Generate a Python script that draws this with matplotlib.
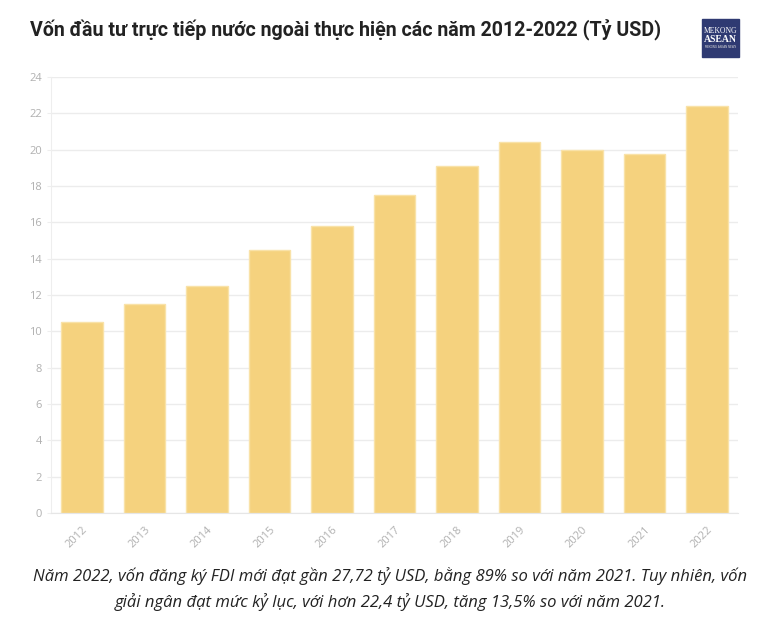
import matplotlib.pyplot as plt
from matplotlib.patches import Rectangle

years = ['2012', '2013', '2014', '2015', '2016', '2017', '2018', '2019', '2020', '2021', '2022']
fdi = [10.5, 11.5, 12.5, 14.5, 15.8, 17.5, 19.1, 20.4, 20.0, 19.75, 22.4]
yticks = list(range(0, 25, 2))

title = 'Vốn đầu tư trực tiếp nước ngoài thực hiện các năm 2012-2022 (Tỷ USD)'
caption = ('Năm 2022, vốn đăng ký FDI mới đạt gần 27,72 tỷ USD, bằng 89% so với năm 2021. Tuy nhiên, vốn\n'
           'giải ngân đạt mức kỷ lục, với hơn 22,4 tỷ USD, tăng 13,5% so với năm 2021.')

fig = plt.figure(figsize=(7.65, 6.22), dpi=100)
ax = fig.add_axes([0.0663, 0.1752, 0.8987, 0.701])

ax.bar(range(len(years)), fdi, width=0.67, color='#f5d27e', edgecolor='#f9e2a8', linewidth=1, zorder=2)

ax.set_xlim(-0.5, len(years) - 0.5)
ax.set_ylim(0, 24)
ax.set_yticks(yticks)
ax.set_xticks(range(len(years)))
ax.set_xticklabels(years, rotation=45, ha='right', rotation_mode='anchor')
ax.tick_params(axis='both', colors='#b0b0b0', labelsize=8, length=3)
ax.tick_params(axis='x', length=0, pad=8)
ax.tick_params(axis='y', color='#eeeeee')
for lbl in ax.get_xticklabels() + ax.get_yticklabels():
    lbl.set_fontfamily('Open Sans')
ax.grid(axis='y', color='#ececec', linewidth=1, zorder=0)
for s in ['top', 'right']:
    ax.spines[s].set_visible(False)
ax.spines['left'].set_color('#eeeeee')
ax.spines['bottom'].set_color('#e6e6e6')

fig.text(30 / 765, 1 - 30 / 622, title, fontsize=14.1, fontweight='bold', color='#222222',
         family='Roboto', va='center', ha='left')

# logo
fig.patches.append(Rectangle((702 / 765, 1 - 57 / 622), 37 / 765, 38 / 622,
                             transform=fig.transFigure, color='#2f3a72'))
fig.text(720.5 / 765, 1 - 31 / 622, 'MEKONG', fontsize=5.5, color='white', family='Liberation Serif',
         ha='center', va='center')
fig.text(720.5 / 765, 1 - 40 / 622, 'ASEAN', fontsize=7, color='white', family='Liberation Serif',
         fontweight='bold', ha='center', va='center')
fig.text(720.5 / 765, 1 - 47 / 622, 'MEKONG ASEAN NEWS', fontsize=2, color='#dddddd',
         ha='center', va='center')

fig.text(390 / 765, 1 - 589 / 622, caption, fontsize=12, fontstyle='italic', color='#222222',
         family='Open Sans', ha='center', va='center', linespacing=1.55)

fig.savefig('out.png', dpi=100)
